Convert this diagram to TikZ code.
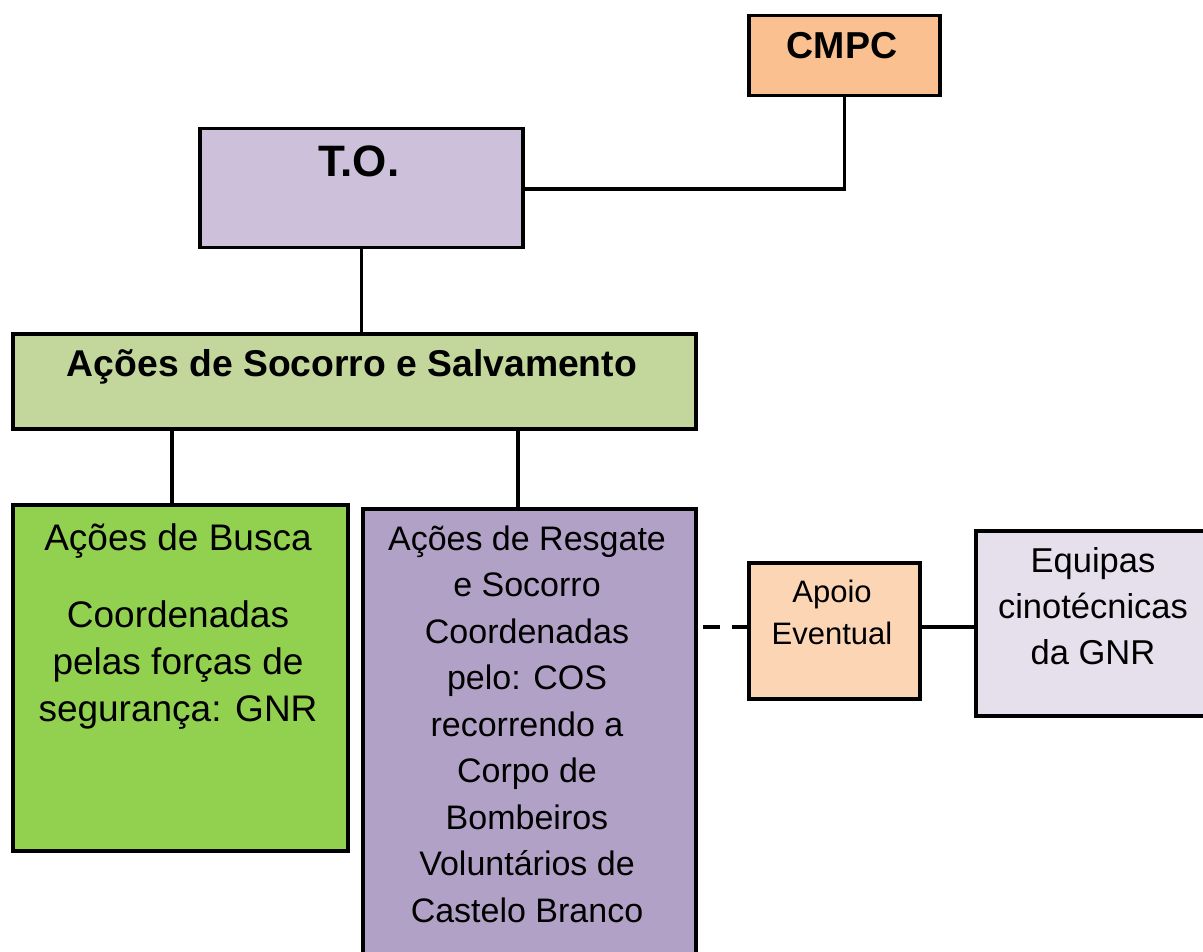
\documentclass[tikz,border=0pt]{standalone}
\usepackage{fontspec}
\setmainfont{Liberation Sans}
\definecolor{cmpcfill}{HTML}{FAC090}
\definecolor{tofill}{HTML}{CCC0DA}
\definecolor{titlefill}{HTML}{C3D69B}
\definecolor{buscafill}{HTML}{92D050}
\definecolor{resgatefill}{HTML}{B2A1C7}
\definecolor{apoiofill}{HTML}{FCD5B5}
\definecolor{equipfill}{HTML}{E5E0EC}
\tikzset{
  box/.style={draw, line width=3.5pt, inner sep=0pt, anchor=north west, rectangle},
  lbl/.style={inner sep=0pt, anchor=base, align=center},
  conn/.style={line width=3.3pt},
}
\begin{document}
\begin{tikzpicture}[x=1pt,y=-1pt]
\useasboundingbox (0,0) rectangle (1203,952);
% boxes
\node[box, fill=cmpcfill, minimum width=191pt, minimum height=80pt] (cmpc) at (747,14) {};
\node[box, fill=tofill, minimum width=323pt, minimum height=119pt] (to) at (198,127) {};
\node[box, fill=titlefill, minimum width=683pt, minimum height=95pt] (title) at (11,332) {};
\node[box, fill=buscafill, minimum width=335pt, minimum height=346pt] (busca) at (11,503) {};
\node[box, fill=resgatefill, minimum width=333pt, minimum height=480pt] (resgate) at (361,507) {};
\node[box, fill=apoiofill, minimum width=171pt, minimum height=136pt] (apoio) at (747,561) {};
\node[box, fill=equipfill, minimum width=250pt, minimum height=185pt] (equipas) at (974,529) {};
% texts (anchor=base is the baseline of the last line)
\node[lbl, font=\fontsize{37.5}{40}\selectfont\bfseries] (tcmpc) at (842,59) {CMPC};
\node[lbl, font=\fontsize{44}{46}\selectfont\bfseries] (tto) at (359,177) {T.O.};
\node[lbl, font=\fontsize{37.3}{40}\selectfont\bfseries] (ttitle) at (352,376) {Ações de Socorro e Salvamento};
\node[lbl, font=\fontsize{37}{47}\selectfont] (tbusca1) at (178,550) {Ações de Busca};
\node[lbl, font=\fontsize{37}{47}\selectfont] (tbusca2) at (178,721) {Coordenadas\\pelas forças de\\segurança: GNR};
\node[lbl, font=\fontsize{34}{46.5}\selectfont] (tresgate) at (527,922) {Ações de Resgate\\e Socorro\\Coordenadas\\pelo: COS\\recorrendo a\\Corpo de\\Bombeiros\\Voluntários de\\Castelo Branco};
\node[lbl, font=\fontsize{31}{42}\selectfont] (tapoio) at (832,644) {Apoio\\Eventual};
\node[lbl, font=\fontsize{34.5}{46}\selectfont] (tequipas) at (1093,664) {Equipas\\cinotécnicas\\da GNR};
% connectors
\coordinate (c1) at (172,0);
\coordinate (c2) at (518,0);
\coordinate (y1) at (0,189);
\coordinate (y2) at (0,627);
\coordinate (dstart) at (703,627);
\draw[conn] (to.east |- y1) -| (cmpc.south);
\draw[conn] (to.south) -- (to.south |- title.north);
\draw[conn] (title.south -| c1) -- (busca.north -| c1);
\draw[conn] (title.south -| c2) -- (resgate.north -| c2);
\draw[conn, dash pattern=on 17pt off 12pt] (dstart) -- (apoio.west |- y2);
\draw[conn] (apoio.east |- y2) -- (equipas.west |- y2);
\end{tikzpicture}
\end{document}
